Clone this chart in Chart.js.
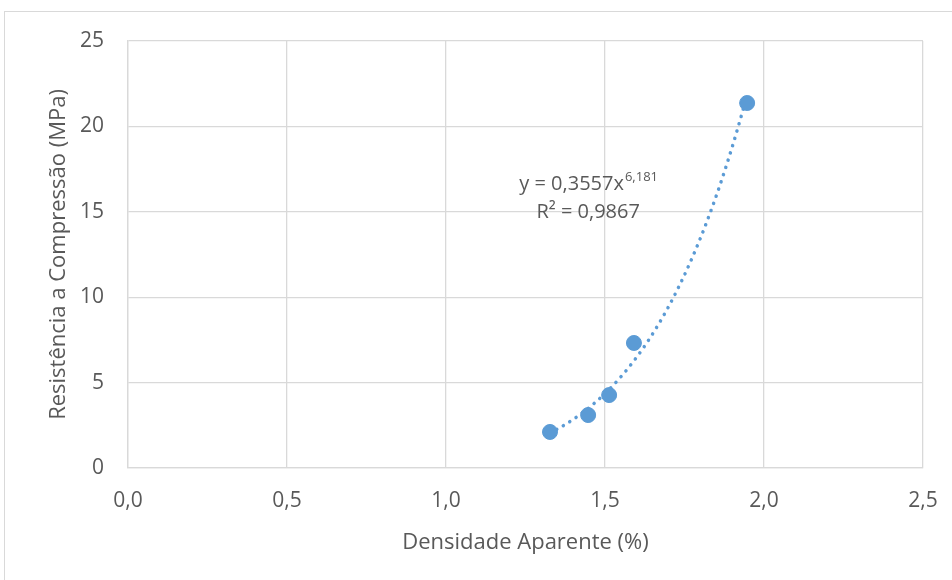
<!DOCTYPE html>
<html>
<head>
<meta charset="utf-8">
<script src="https://cdn.jsdelivr.net/npm/chart.js@4.4.1/dist/chart.umd.min.js"></script>
<style>
  html, body { margin: 0; padding: 0; background: #ffffff; }
  #frame { position: absolute; left: 4px; top: 11px; width: 980px; height: 620px;
           border-left: 1px solid #d9d9d9; border-top: 1px solid #d9d9d9; }
  #wrap { position: absolute; left: 0; top: 0; width: 952px; height: 580px; }
</style>
</head>
<body>
<div id="frame"></div>
<div id="wrap"><canvas id="chart" width="952" height="580"></canvas></div>
<script>
// Apparent density vs. compressive strength samples
const densidade = [1.327, 1.447, 1.513, 1.591, 1.947];
const resistencia = [2.11, 3.10, 4.27, 7.32, 21.37];

// Power trendline y = a * x^b and its fit quality
const coefA = 0.3557;
const coefB = 6.181;
const r2 = 0.9867;

const xTicks = [0, 0.5, 1.0, 1.5, 2.0, 2.5];
const yTicks = [0, 5, 10, 15, 20, 25];

const fmt = (v, d) => v.toFixed(d).replace('.', ',');

// Sample the trendline across the measured density range
const xMin = Math.min(...densidade), xMax = Math.max(...densidade);
const trend = [];
for (let i = 0; i <= 80; i++) {
  const x = xMin + (xMax - xMin) * i / 80;
  trend.push({ x: x, y: coefA * Math.pow(x, coefB) });
}

const grey = '#595959';
const gridColor = '#d9d9d9';
const fontFamily = '"Open Sans", "Noto Sans", sans-serif';

// Equation label drawn next to the curve
const equationLabel = {
  id: 'equationLabel',
  afterDatasetsDraw(chart) {
    const { ctx, scales } = chart;
    const cx = scales.x.getPixelForValue(1.447);
    const y1 = scales.y.getPixelForValue(16.6);
    const y2 = scales.y.getPixelForValue(14.95);
    ctx.save();
    ctx.fillStyle = grey;
    ctx.textBaseline = 'middle';
    const main = 'y = ' + fmt(coefA, 4) + 'x';
    const sup = fmt(coefB, 3);
    ctx.font = '20px ' + fontFamily;
    const wMain = ctx.measureText(main).width;
    ctx.font = '13px ' + fontFamily;
    const wSup = ctx.measureText(sup).width;
    const start = cx - (wMain + wSup) / 2;
    ctx.font = '20px ' + fontFamily;
    ctx.textAlign = 'left';
    ctx.fillText(main, start, y1);
    ctx.font = '13px ' + fontFamily;
    ctx.fillText(sup, start + wMain + 1, y1 - 7);
    ctx.font = '20px ' + fontFamily;
    ctx.textAlign = 'center';
    ctx.fillText('R² = ' + fmt(r2, 4), cx, y2);
    ctx.restore();
  }
};

new Chart(document.getElementById('chart'), {
  type: 'scatter',
  data: {
    datasets: [
      {
        label: 'Tendência',
        data: trend,
        showLine: true,
        borderColor: '#5b9bd5',
        borderWidth: 3.5,
        borderDash: [0.1, 7.5],
        borderCapStyle: 'round',
        pointRadius: 0,
        fill: false,
        order: 2
      },
      {
        label: 'Amostras',
        data: densidade.map((x, i) => ({ x: x, y: resistencia[i] })),
        backgroundColor: '#5b9bd5',
        borderColor: '#5b9bd5',
        pointRadius: 7.5,
        pointHoverRadius: 7.5,
        order: 1
      }
    ]
  },
  options: {
    responsive: false,
    animation: false,
    events: [],
    layout: { padding: { top: 41, right: 29, left: 46, bottom: 24 } },
    plugins: { legend: { display: false }, tooltip: { enabled: false } },
    scales: {
      x: {
        type: 'linear',
        min: 0, max: 2.5,
        afterBuildTicks: s => { s.ticks = xTicks.map(v => ({ value: v })); },
        afterFit: s => {
          s.height = 580 - 468 - 24;
          s.paddingLeft = 0;
          s.paddingRight = 0;
        },
        grid: { color: gridColor, drawTicks: false, lineWidth: 1.3 },
        border: { color: gridColor, width: 1.3 },
        ticks: { color: grey, padding: 20, font: { family: fontFamily, size: 21 },
                 callback: v => fmt(v, 1) },
        title: { display: true, text: 'Densidade Aparente (%)', color: grey,
                 font: { family: fontFamily, size: 22 }, padding: { top: 10, bottom: 0 } }
      },
      y: {
        type: 'linear',
        min: 0, max: 25,
        afterBuildTicks: s => { s.ticks = yTicks.map(v => ({ value: v })); },
        afterFit: s => { s.width = 128 - 46; },
        grid: { color: gridColor, drawTicks: false, lineWidth: 1.3 },
        border: { color: gridColor, width: 1.3 },
        ticks: { color: grey, padding: 24, font: { family: fontFamily, size: 21 },
                 callback: v => String(v) },
        title: { display: true, text: 'Resistência a Compressão (MPa)', color: grey,
                 font: { family: fontFamily, size: 22 }, padding: { top: 0, bottom: 0 } }
      }
    }
  },
  plugins: [equationLabel]
});
</script>
</body>
</html>
